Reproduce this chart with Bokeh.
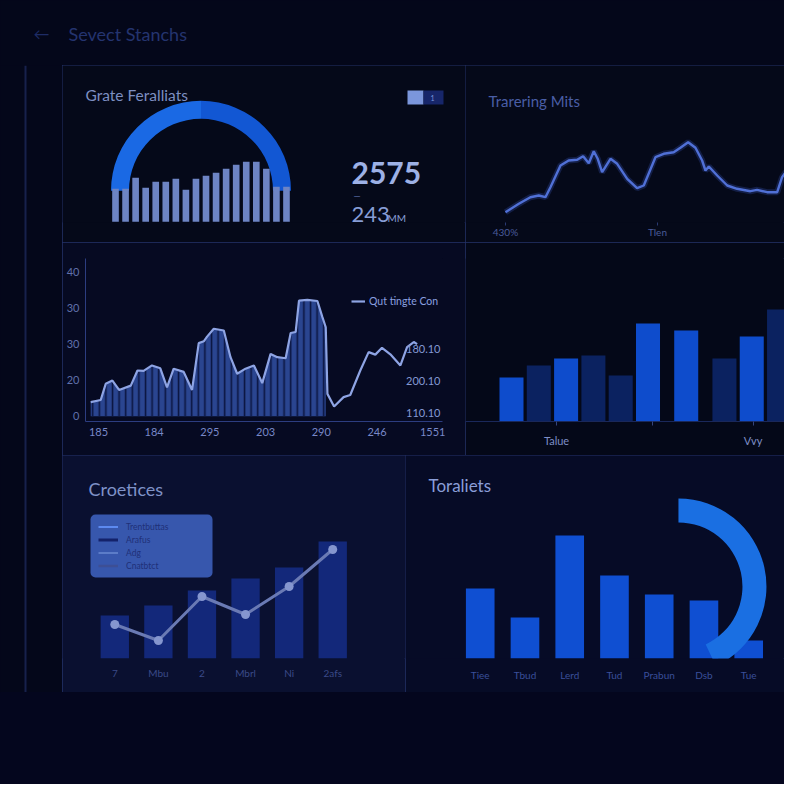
import math
from bokeh.plotting import figure
from bokeh.layouts import column, row
from bokeh.models import (Label, Legend, LegendItem, LinearAxis, FixedTicker, Range1d, Span,
                          BoxAnnotation, ColumnDataSource, InlineStyleSheet)
from bokeh.transform import factor_cmap
from bokeh.embed import file_html
from bokeh.resources import INLINE

FONT = "Lato"
NAN = float("nan")

# ---------------- data ----------------
header_title = "Sevect Stanchs"

gauge_title = "Grate Feralliats"
gauge_bars = [33, 33, 44, 34, 40, 40, 43, 32, 43, 46, 49, 53, 57, 60, 60, 53, 35, 35]
gauge_split = [50, 50]
kpi_main = "2575"
kpi_sub = "243"
kpi_unit = "MM"

trend_title = "Trarering Mits"
trend_x = [0, 0.088, 0.164, 0.219, 0.263, 0.296, 0.362, 0.416, 0.472, 0.511, 0.548, 0.581, 0.607,
           0.636, 0.691, 0.735, 0.801, 0.866, 0.910, 0.987, 1.041, 1.107, 1.151, 1.202, 1.250,
           1.294, 1.316, 1.338, 1.393, 1.459, 1.524, 1.612, 1.656, 1.722, 1.788, 1.820, 1.853,
           1.897, 1.941]
trend_y = [10.3, 18.7, 25.3, 27, 25.3, 35.3, 57, 62, 62.7, 66.3, 59.3, 71.3, 63.7, 50.3, 63.7,
           58.7, 43.7, 34.3, 37, 65.3, 68.7, 70.3, 74.7, 80.3, 74.7, 62, 52, 56, 47, 37, 33.7,
           31.3, 32.7, 30.3, 30.3, 45.3, 52, 48.7, 47]
trend_ticks = [0, 1]
trend_tick_labels = ["430%", "Tlen"]

area_x = [-0.14, 0.04, 0.13, 0.25, 0.37, 0.58, 0.70, 0.81, 0.96, 1.11, 1.23, 1.35, 1.53, 1.68,
          1.80, 1.89, 1.95, 2.07, 2.25, 2.37, 2.49, 2.64, 2.79, 2.94, 3.09, 3.21, 3.36, 3.45,
          3.54, 3.60, 3.75, 3.93, 4.02, 4.08, 4.11, 4.23, 4.40, 4.52, 4.70, 4.85, 4.97, 5.09,
          5.24, 5.42, 5.54, 5.66, 5.72]
area_y = [3.9, 4.5, 9.0, 9.9, 7.3, 8.5, 12.7, 12.6, 14.1, 13.3, 8.0, 13.2, 12.3, 7.3, 20.3,
          20.8, 22.1, 24.3, 23.8, 16.4, 11.8, 13.2, 14.1, 9.2, 17.3, 16.4, 16.1, 23.1, 23.4,
          32.1, 32.3, 32.0, 27.5, 24.7, 6.2, 2.7, 5.3, 5.9, 12.7, 17.8, 17.1, 19.0, 17.2, 14.1,
          19.2, 20.6, 20.0]
area_filled_points = 34
area_x_labels = ["185", "184", "295", "203", "290", "246", "1551"]
area_y_ticks = [0, 10, 20, 30, 40]
area_y_labels = ["0", "20", "30", "30", "40"]
area_legend = "Qut tingte Con"
side_labels = ["180.10", "200.10", "110.10"]
side_label_y = [18.8, 9.9, 0.8]

col_x = [0, 1, 2, 3, 4, 5, 6.4, 7.8, 8.8, 9.8, 10.8]
col_h = [44, 56, 63, 66, 46, 98, 91, 63, 85, 112, 104]
col_series = ["A", "B", "A", "B", "B", "A", "A", "B", "A", "B", "A"]
col_ticks = [1.65, 5.15, 8.85]
col_tick_labels = ["Talue", "", "Vvy"]

combo_title = "Croetices"
combo_cats = ["7", "Mbu", "2", "Mbrl", "Ni", "2afs"]
combo_bars = [43, 53, 68, 80, 91, 117]
combo_line = [34, 18, 62, 44, 72, 109]
combo_legend = ["Trentbuttas", "Arafus", "Adg", "Cnatbtct"]

tot_title = "Toraliets"
tot_cats = ["Tiee", "Tbud", "Lerd", "Tud", "Prabun", "Dsb", "Tue"]
tot_vals = [70, 41, 123, 83, 64, 58, 18]
tot_ring_pct = 43

# ---------------- helpers ----------------
FRAME_CSS = InlineStyleSheet(css=":host { outline: 1px solid #24336a; outline-offset: -1px; }")


def make_fig(w, h, xr, yr, bg, left=0, right=0, top=0, bottom=0, framed=True):
    p = figure(width=w, height=h, x_range=Range1d(*xr), y_range=Range1d(*yr),
               output_backend="svg", toolbar_location=None,
               x_axis_location=None, y_axis_location=None,
               min_border_left=left, min_border_right=right,
               min_border_top=top, min_border_bottom=bottom)
    p.background_fill_color = bg
    p.border_fill_color = bg
    p.outline_line_color = None
    p.grid.visible = False
    p.styles = {"background-color": bg}
    if framed:
        p.stylesheets = [FRAME_CSS]
    return p


def add_text(p, x, y, text, size, color, align="left", baseline="middle", bold=False):
    p.add_layout(Label(x=x, y=y, x_units="screen", y_units="screen", text=text,
                       text_font=FONT, text_font_size=f"{size}px", text_color=color,
                       text_align=align, text_baseline=baseline,
                       text_font_style="bold" if bold else "normal"))


def add_box(p, l, r, b, t, color, radius=0):
    p.add_layout(BoxAnnotation(left=l, right=r, bottom=b, top=t, left_units="screen",
                               right_units="screen", bottom_units="screen", top_units="screen",
                               fill_color=color, fill_alpha=1, line_color=None,
                               border_radius=radius))


def style_axis(ax, color, size, standoff, line_color=None, tick_color=None, tick_out=0):
    ax.axis_line_color = line_color
    ax.major_tick_line_color = tick_color
    ax.major_tick_out = tick_out
    ax.major_tick_in = 0
    ax.minor_tick_line_color = None
    ax.major_label_text_color = color
    ax.major_label_text_font = FONT
    ax.major_label_text_font_size = f"{size}px"
    ax.major_label_standoff = standoff


# ---------------- header ----------------
header = make_fig(784, 65, (0, 1), (0, 1), "#04071a", framed=False)
add_text(header, 33, 32, "\u2190", 16, "#1e2c66")
add_text(header, 68, 32, header_title, 18, "#24346f")

# ---------------- left strip ----------------
strip = make_fig(62, 627, (0, 62), (0, 627), "#04071a", framed=False)
strip.add_layout(Span(location=25, dimension="height", line_color="#17214c", line_width=2))

# ---------------- panel 1: gauge ----------------
p1 = make_fig(403, 177, (-5.27, 34.8), (-0.7, 156.3), "#050919", bottom=20)
cx = (len(gauge_bars) - 1) / 2
starts, ends, cum = [], [], 0
for s in gauge_split:
    ends.append(math.pi - cum / 100 * math.pi)
    cum += s
    starts.append(math.pi - cum / 100 * math.pi)
p1.annular_wedge(x=cx, y=31, inner_radius=72, outer_radius=90,
                 inner_radius_units="screen", outer_radius_units="screen",
                 start_angle=starts, end_angle=ends,
                 fill_color=["#1a69e4", "#1257d3"], line_color=None)
p1.vbar(x=list(range(len(gauge_bars))), top=gauge_bars, bottom=0, width=0.66,
        fill_color="#6d84c4", line_color=None)
add_text(p1, 23, 128, gauge_title, 15.5, "#7d8fc2")
add_text(p1, 289, 50, kpi_main, 30, "#9db1e6", bold=True)
add_text(p1, 291, 27, "\u2014", 9, "#5a6ca8")
add_text(p1, 289, 8, kpi_sub, 22, "#879dd6")
add_text(p1, 325, 5, kpi_unit, 10, "#879dd6")
add_box(p1, 345, 361, 118, 132, "#7b96dc")
add_box(p1, 361, 381, 118, 132, "#17266a")
add_text(p1, 368, 125, "1", 7, "#7b96dc")

# ---------------- panel 2: trend line ----------------
p2 = make_fig(319, 177, (-0.263, 1.836), (0, 157), "#050919", bottom=20)
p2.line(trend_x, trend_y, line_color="#3f5fd0", line_width=6, line_alpha=0.25)
p2.line(trend_x, trend_y, line_color="#5070d6", line_width=2.4)
ax2 = LinearAxis(ticker=FixedTicker(ticks=trend_ticks),
                 major_label_overrides={t: l for t, l in zip(trend_ticks, trend_tick_labels)})
style_axis(ax2, "#4a5b9a", 10, 0, tick_color="#2a3a72", tick_out=3)
p2.add_layout(ax2, "below")
add_text(p2, 23, 122, trend_title, 15, "#4a5ea6")

# ---------------- panel 3: striped area ----------------
p3 = make_fig(403, 213, (-0.233, 6.176), (-1.47, 43.8), "#060a22",
              left=23, right=23, top=16, bottom=34)
n = area_filled_points
p3.varea(x=area_x[:n], y1=0, y2=area_y[:n], fill_color="#2a4590",
         hatch_pattern="vertical_line", hatch_color="#0b1540", hatch_weight=1.6, hatch_scale=6.6)
line_r = p3.line(area_x, area_y, line_color="#8ea4e4", line_width=2.2)
ax3y = LinearAxis(ticker=FixedTicker(ticks=area_y_ticks),
                  major_label_overrides={t: l for t, l in zip(area_y_ticks, area_y_labels)})
style_axis(ax3y, "#6070aa", 11, 6, line_color="#2c3d80")
p3.add_layout(ax3y, "left")
ax3x = LinearAxis(ticker=FixedTicker(ticks=list(range(len(area_x_labels)))),
                  major_label_overrides={i: l for i, l in enumerate(area_x_labels)})
style_axis(ax3x, "#7888c8", 11, 6, line_color="#2c3d80")
p3.add_layout(ax3x, "below")
for txt, yv in zip(side_labels, side_label_y):
    p3.add_layout(Label(x=355, y=yv, x_units="screen", y_units="data", text=txt,
                        text_font=FONT, text_font_size="11px", text_color="#8499d4",
                        text_align="right", text_baseline="middle"))
leg3 = Legend(items=[LegendItem(label=area_legend, renderers=[line_r])], location=(266, 114),
              background_fill_alpha=0, border_line_color=None, padding=0, margin=0,
              glyph_width=14, glyph_height=12, label_height=12, label_standoff=4,
              label_text_font=FONT, label_text_font_size="10.5px", label_text_color="#8aa0e0")
p3.add_layout(leg3)

# ---------------- panel 4: column bars ----------------
p4 = make_fig(319, 213, (-1.685, 10.0), (0, 163), "#040818", top=16, bottom=34)
src4 = ColumnDataSource(dict(x=col_x, top=col_h, s=col_series))
p4.vbar(x="x", top="top", bottom=0, width=0.88, source=src4, line_color=None,
        fill_color=factor_cmap("s", palette=["#0e4ccc", "#0b2260"], factors=["A", "B"]))
ax4 = LinearAxis(ticker=FixedTicker(ticks=col_ticks),
                 major_label_overrides={t: l for t, l in zip(col_ticks, col_tick_labels)})
style_axis(ax4, "#7e8ec6", 11, 8, line_color="#1a285a", tick_color="#34447e", tick_out=4)
p4.add_layout(ax4, "below")

# ---------------- panel 5: combo ----------------
p5 = make_fig(343, 237, (-1.2, 6.67), (0, 203), "#0a1030", bottom=34)
xs5 = list(range(len(combo_cats)))
p5.vbar(x=xs5, top=combo_bars, bottom=0, width=0.65, fill_color="#13287a", line_color=None)
p5.line(xs5, combo_line, line_color="#6a7ab4", line_width=3)
p5.scatter(xs5, combo_line, size=9, fill_color="#8596cf", line_color=None)
ax5 = LinearAxis(ticker=FixedTicker(ticks=xs5),
                 major_label_overrides={i: l for i, l in enumerate(combo_cats)})
style_axis(ax5, "#3a4a88", 10, 8)
p5.add_layout(ax5, "below")
add_text(p5, 26, 170, combo_title, 18, "#7f92c8")
add_box(p5, 28, 150, 81, 144, "#3757ad", radius=5)
leg_colors = ["#5d8af0", "#14226a", "#5c7cc8", "#3d4f95"]
leg_widths = [2, 3, 2, 2.5]
items5 = []
for lab, c, w in zip(combo_legend, leg_colors, leg_widths):
    r = p5.line(x=xs5, y=[NAN] * len(xs5), line_color=c, line_width=w)
    items5.append(LegendItem(label=lab, renderers=[r]))
leg5 = Legend(items=items5, location=(36, 86), background_fill_alpha=0,
              border_line_color=None, padding=0, spacing=0, margin=0,
              glyph_width=20, glyph_height=13, label_height=13,
              label_standoff=8, label_text_font=FONT, label_text_font_size="8.5px",
              label_text_color="#1f3078")
p5.add_layout(leg5)

# ---------------- panel 6: totals + ring ----------------
p6 = make_fig(379, 237, (-1.67, 6.80), (0, 203), "#060b26", bottom=34)
xs6 = list(range(len(tot_cats)))
p6.vbar(x=xs6, top=tot_vals, bottom=0, width=0.64, fill_color="#0f4fd2", line_color=None)
p6.annular_wedge(x=4.43, y=72, inner_radius=64, outer_radius=88,
                 inner_radius_units="screen", outer_radius_units="screen",
                 start_angle=math.radians(90 - tot_ring_pct / 100 * 360),
                 end_angle=math.radians(90), fill_color="#1a6fe2", line_color=None)
ax6 = LinearAxis(ticker=FixedTicker(ticks=xs6),
                 major_label_overrides={i: l for i, l in enumerate(tot_cats)})
style_axis(ax6, "#3a4f9a", 10, 10)
p6.add_layout(ax6, "below")
add_text(p6, 23, 173, tot_title, 17, "#8a9ed8")

# ---------------- footer ----------------
footer = make_fig(784, 92, (0, 1), (0, 1), "#04061e", framed=False)

grid = column(row(p1, p2), row(p3, p4), row(p5, p6))
layout = column(header, row(strip, grid), footer)
layout.styles = {"background-color": "#04071a"}

open("out.html", "w").write(file_html(layout, INLINE))
